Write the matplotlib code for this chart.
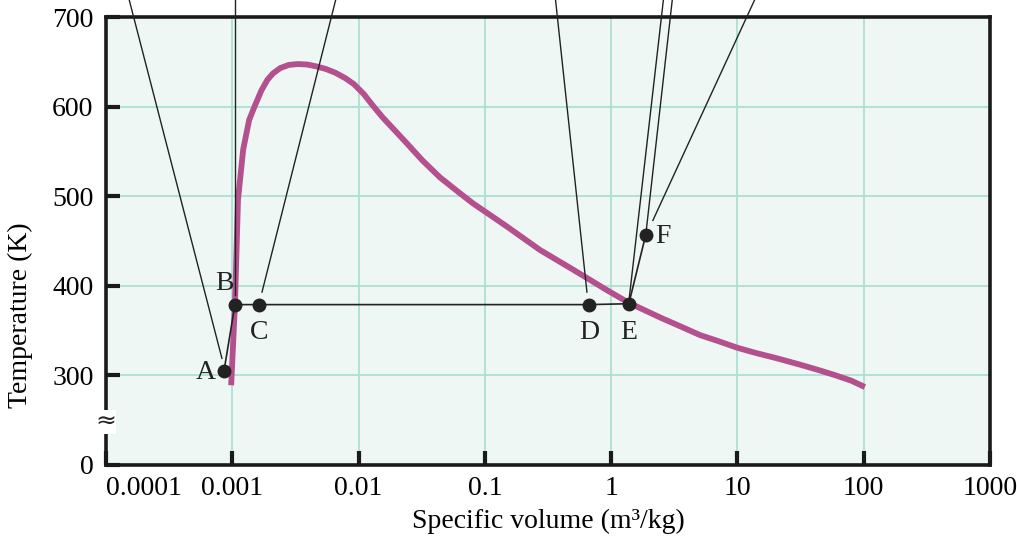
import numpy as np
import matplotlib
matplotlib.use('Agg')
import matplotlib.pyplot as plt
import matplotlib.transforms as mtrans

plt.rcParams['font.family'] = ['Liberation Serif', 'DejaVu Serif']

# saturation dome (v in m3/kg, T in K)
dome_v = [0.00098, 0.00105, 0.00111, 0.00122, 0.00136, 0.0015, 0.0017, 0.0019,
          0.0021, 0.0024, 0.0028, 0.0033, 0.0039, 0.0046, 0.0055, 0.0065,
          0.0078, 0.0092, 0.0110, 0.0130, 0.0155, 0.0195, 0.0241, 0.032,
          0.0441, 0.060, 0.0805, 0.110, 0.150, 0.273, 0.50, 0.93, 1.38, 2.5,
          3.5, 5.05, 7.0, 9.9, 14.0, 20.0, 31.3, 45.0, 60.0, 80.0, 102.0]
dome_T = [289, 379, 496, 552, 585, 600, 618, 630, 637, 643, 646.5, 647.5, 647,
          645, 642, 638, 632, 625, 614, 601, 588, 573, 559, 540, 521, 506, 492,
          479, 466, 440, 418, 395, 381, 364, 355, 345, 338.4, 331, 325, 319.5,
          312, 305.5, 300, 294, 287]

# states along the heating path
state_names = ['A', 'B', 'C', 'D', 'E', 'F']
state_v = [0.00086, 0.00105, 0.00163, 0.667, 1.38, 1.88]
state_T = [305, 379, 379, 379, 380, 457]

# leader lines running up to the (cropped) pictures above the chart
leader_top_v = [0.000149, 0.00105, 0.00675, 0.359, 2.62, 3.08, 14.3]
leader_end_v = [0.000828, 0.00105, 0.00172, 0.643, 1.38, 1.88, 2.14]
leader_end_T = [319, 390, 393, 393, 382, 457, 473]
leader_top_T = 725

xticks = [1e-4, 1e-3, 1e-2, 1e-1, 1, 10, 100, 1000]
xtick_labels = ['0.0001', '0.001', '0.01', '0.1', '1', '10', '100', '1000']
yticks = [200, 300, 400, 500, 600, 700]
ytick_labels = ['0', '300', '400', '500', '600', '700']

fig = plt.figure(figsize=(10.17, 5.38), dpi=100)
ax = fig.add_axes([0.1042, 0.1357, 0.8693, 0.8327])
ax.set_facecolor('#eef7f4')

ax.set_xscale('log')
ax.set_xlim(1e-4, 1000)
ax.set_ylim(200, 700)
ax.set_xticks(xticks)
ax.set_xticklabels(xtick_labels)
ax.minorticks_off()
ax.set_yticks(yticks)
ax.set_yticklabels(ytick_labels)
ax.tick_params(direction='in', length=10, width=3, labelsize=20, color='#1a1a1a')
ax.tick_params(axis='y', pad=9)
ax.tick_params(axis='x', pad=8)
xl = ax.get_xticklabels()
xl[0].set_ha('left')
ax.grid(True, color='#ace0d2', linewidth=1.3)
ax.set_axisbelow(True)
for s in ax.spines.values():
    s.set_linewidth(2.6)
    s.set_color('#1a1a1a')

ax.plot(dome_v, dome_T, color='#b5508f', lw=4.2, solid_capstyle='butt',
        solid_joinstyle='round', zorder=3)

# process path A-B-...-F
ax.plot(state_v, state_T, color='#222222', lw=1.2, zorder=4)
ax.plot(state_v, state_T, 'o', color='#222222', ms=9, zorder=5)

for vt, ve, te in zip(leader_top_v, leader_end_v, leader_end_T):
    ax.plot([vt, ve], [leader_top_T, te], color='#222222', lw=1.0,
            clip_on=False, zorder=4)

label_dx = [0.00062, 0.00087, 0.00163, 0.667, 1.38, 2.55]
label_dy = [303, 403, 348, 348, 348, 455]
for name, lx, ly in zip(state_names, label_dx, label_dy):
    ax.text(lx, ly, name, fontsize=20, ha='center', va='center', color='#222222')

# axis break mark
tr = mtrans.blended_transform_factory(ax.transAxes, ax.transData)
ax.text(0.0, 248, '\u2248', transform=tr, fontsize=18, ha='center', va='center',
        family='DejaVu Sans', color='#222222', clip_on=False, zorder=6,
        bbox=dict(facecolor='white', edgecolor='none', pad=0.0))

ax.set_xlabel('Specific volume (m\u00b3/kg)', fontsize=20)
ax.set_ylabel('Temperature (K)', fontsize=20)
ax.xaxis.set_label_coords(0.5, -0.098)
ax.yaxis.set_label_coords(-0.083, 0.335)

fig.savefig('out.png', dpi=100)
